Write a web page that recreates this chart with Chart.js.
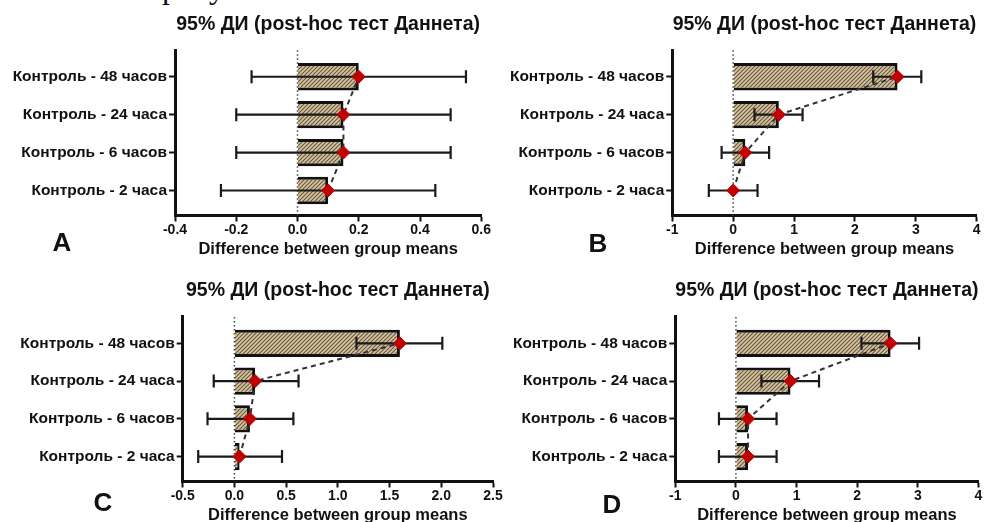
<!DOCTYPE html>
<html>
<head>
<meta charset="utf-8">
<script src="https://cdn.jsdelivr.net/npm/chart.js@4.4.0/dist/chart.umd.min.js"></script>
<style>
body { margin:0; width:986px; height:522px; overflow:hidden; background:#fff; position:relative; }
canvas { position:absolute; }
.lbl { position:absolute; width:40px; text-align:center; font:bold 26px "Liberation Sans", Arial, sans-serif; line-height:26px; color:#111; }
#cap { position:absolute; left:162px; top:-29px; font:32px "Liberation Serif", serif; line-height:32px; color:#111; }
</style>
</head>
<body>
<div id="cap">рисунок</div>
<canvas id="cA" width="493" height="261" style="left:0;top:0"></canvas>
<canvas id="cB" width="493" height="261" style="left:493px;top:0"></canvas>
<canvas id="cC" width="520" height="270" style="left:0;top:261px"></canvas>
<canvas id="cD" width="493" height="270" style="left:493px;top:261px"></canvas>
<div class="lbl" style="left:42px;top:229px">A</div>
<div class="lbl" style="left:578px;top:230px">B</div>
<div class="lbl" style="left:83px;top:489px">C</div>
<div class="lbl" style="left:592px;top:491px">D</div>
<script>
// категории (снизу вверх)
const labels = ['Контроль - 2 часа', 'Контроль - 6 часов', 'Контроль - 24 часа', 'Контроль - 48 часов'];

// A
const meanA = [0.10, 0.15, 0.15, 0.20];
const lowA = [-0.25, -0.20, -0.20, -0.15];
const highA = [0.45, 0.50, 0.50, 0.55];
const ticksA = [-0.4, -0.2, 0, 0.2, 0.4, 0.6];

// B
const meanB = [0.00, 0.20, 0.75, 2.70];
const lowB = [-0.40, -0.19, 0.35, 2.30];
const highB = [0.40, 0.59, 1.14, 3.09];
const ticksB = [-1, 0, 1, 2, 3, 4];

// C
const meanC = [0.05, 0.15, 0.20, 1.60];
const lowC = [-0.35, -0.26, -0.20, 1.18];
const highC = [0.46, 0.57, 0.62, 2.01];
const ticksC = [-0.5, 0, 0.5, 1, 1.5, 2, 2.5];

// D
const meanD = [0.20, 0.20, 0.90, 2.55];
const lowD = [-0.28, -0.28, 0.42, 2.07];
const highD = [0.67, 0.67, 1.37, 3.02];
const ticksD = [-1, 0, 1, 2, 3, 4];

const title = '95% ДИ (post-hoc тест Даннета)';
const xTitle = 'Difference between group means';
const font = '"Liberation Sans", Arial, sans-serif';

Chart.defaults.color = '#111';
Chart.defaults.font.family = font;

// штриховка для столбцов
function hatch(ctx) {
    const c = document.createElement('canvas');
    c.width = 4; c.height = 4;
    const g = c.getContext('2d');
    g.fillStyle = '#d6c6a4';
    g.fillRect(0, 0, 4, 4);
    g.strokeStyle = '#6b593d';
    g.lineWidth = 1.2;
    g.beginPath();
    g.moveTo(0, 4); g.lineTo(4, 0);
    g.moveTo(-1, 1); g.lineTo(1, -1);
    g.moveTo(3, 5); g.lineTo(5, 3);
    g.stroke();
    return ctx.createPattern(c, 'repeat');
}

// нулевая линия + доверительные интервалы
function extras(low, high) {
    return {
        id: 'extras',
        beforeDatasetsDraw(chart) {
            const {ctx, chartArea, scales: {x}} = chart;
            const px = x.getPixelForValue(0);
            ctx.save();
            ctx.strokeStyle = '#444';
            ctx.lineWidth = 1.5;
            ctx.setLineDash([1.5, 2.5]);
            ctx.beginPath();
            ctx.moveTo(px, chartArea.top);
            ctx.lineTo(px, chartArea.bottom);
            ctx.stroke();
            ctx.restore();
        },
        afterDatasetDraw(chart, args) {
            if (args.index !== 0) return;
            const {ctx, scales: {x, y}} = chart;
            ctx.save();
            ctx.strokeStyle = '#1a1a1a';
            ctx.lineWidth = 2.2;
            low.forEach((lo, i) => {
                const yy = y.getPixelForValue(i);
                const x1 = x.getPixelForValue(lo);
                const x2 = x.getPixelForValue(high[i]);
                ctx.beginPath();
                ctx.moveTo(x1, yy); ctx.lineTo(x2, yy);
                ctx.moveTo(x1, yy - 6.5); ctx.lineTo(x1, yy + 6.5);
                ctx.moveTo(x2, yy - 6.5); ctx.lineTo(x2, yy + 6.5);
                ctx.stroke();
            });
            ctx.restore();
        }
    };
}

function panel(id, mean, low, high, ticks, dec, left, padRight, tTop, tBottom, padBottom) {
    const ctx = document.getElementById(id).getContext('2d');
    const pts = mean.map((v, i) => ({x: v, y: i}));
    new Chart(ctx, {
        type: 'bar',
        data: {
            datasets: [{
                type: 'bar',
                data: pts,
                backgroundColor: hatch(ctx),
                borderColor: '#111',
                borderWidth: 3,
                borderSkipped: 'start',
                categoryPercentage: 1,
                barPercentage: 0.72,
                order: 2
            }, {
                type: 'line',
                data: pts,
                borderColor: '#333',
                borderWidth: 2,
                borderDash: [5, 4],
                pointStyle: 'rectRot',
                pointRadius: 6.5,
                pointBackgroundColor: '#c00000',
                pointBorderColor: '#c00000',
                pointBorderWidth: 1,
                order: 1
            }]
        },
        options: {
            indexAxis: 'y',
            responsive: false,
            animation: false,
            layout: {padding: {left: 0, right: padRight, top: 0, bottom: padBottom}},
            plugins: {
                legend: {display: false},
                tooltip: {enabled: false},
                title: {
                    display: true,
                    text: title,
                    fullSize: false,
                    font: {size: 19.5, weight: 'bold', lineHeight: 1.2},
                    padding: {top: tTop, bottom: tBottom}
                }
            },
            scales: {
                x: {
                    type: 'linear',
                    min: ticks[0],
                    max: ticks[ticks.length - 1],
                    afterBuildTicks: s => { s.ticks = ticks.map(v => ({value: v})); },
                    ticks: {
                        callback: v => v.toFixed(dec),
                        font: {size: 14, weight: 'bold', lineHeight: 1},
                        padding: 2
                    },
                    grid: {display: true, drawOnChartArea: false, drawTicks: true, tickLength: 6, tickWidth: 2, tickColor: '#111'},
                    border: {display: true, color: '#111', width: 3},
                    title: {
                        display: true,
                        text: xTitle,
                        font: {size: 16.5, weight: 'bold', lineHeight: 1},
                        padding: {top: 2, bottom: 0}
                    }
                },
                y: {
                    type: 'linear',
                    min: -0.66,
                    max: 3.7,
                    offset: false,
                    afterBuildTicks: s => { s.ticks = labels.map((_, i) => ({value: i})); },
                    afterFit: s => { s.width = left; },
                    ticks: {
                        callback: v => labels[v],
                        font: {size: 15.5, weight: 'bold', lineHeight: 1},
                        padding: 2,
                        autoSkip: false
                    },
                    grid: {display: true, offset: false, drawOnChartArea: false, drawTicks: true, tickLength: 6, tickWidth: 2, tickColor: '#111'},
                    border: {display: true, color: '#111', width: 3}
                }
            }
        },
        plugins: [extras(low, high)]
    });
}

panel('cA', meanA, lowA, highA, ticksA, 1, 175, 11.3, 13.4, 13.4, 3);
panel('cB', meanB, lowB, highB, ticksB, 0, 179.3, 9.3, 13.4, 13.4, 3);
panel('cC', meanC, lowC, highC, ticksC, 1, 182.7, 27, 18.4, 14.1, 7);
panel('cD', meanD, lowD, highD, ticksD, 0, 182.3, 5, 18.4, 14.1, 7);
</script>
</body>
</html>
